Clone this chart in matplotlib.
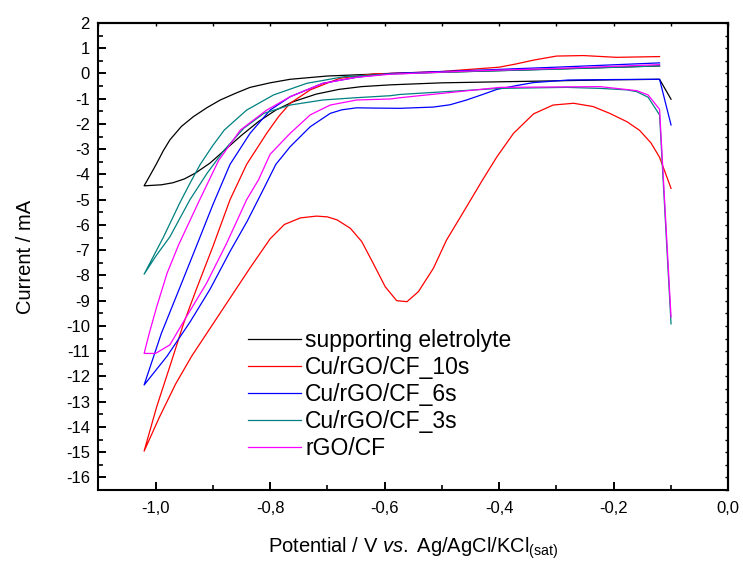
import matplotlib
matplotlib.use("Agg")
import matplotlib.pyplot as plt

plt.rcParams['font.family'] = ['Liberation Sans', 'DejaVu Sans']
plt.rcParams['mathtext.fontset'] = 'custom'
plt.rcParams['mathtext.rm'] = 'Liberation Sans'
plt.rcParams['mathtext.it'] = 'Liberation Sans:italic'

labels = ["supporting eletrolyte", "Cu/rGO/CF_10s", "Cu/rGO/CF_6s", "Cu/rGO/CF_3s", "rGO/CF"]
colors = ["#000000", "#FF0000", "#0000FF", "#008080", "#FF00FF"]

black_x = [-0.10, -0.12, -0.20, -0.35, -0.50, -0.59, -0.64, -0.68, -0.72, -0.76, -0.79, -0.82, -0.85, -0.88,
           -0.905, -0.93, -0.95, -0.97, -0.99, -1.02,
           -1.01, -0.998, -0.987, -0.975, -0.955, -0.934, -0.91, -0.887, -0.86, -0.835, -0.80, -0.765, -0.70,
           -0.59, -0.45, -0.30, -0.12]
black_y = [-1.02, -0.23, -0.25, -0.31, -0.37, -0.45, -0.52, -0.63, -0.82, -1.12, -1.45, -1.90, -2.45, -3.05,
           -3.55, -3.94, -4.18, -4.33, -4.41, -4.45,
           -4.05, -3.56, -3.08, -2.63, -2.10, -1.71, -1.35, -1.05, -0.78, -0.55, -0.37, -0.23, -0.10,
           0.00, 0.08, 0.18, 0.30]

red_x = [-0.10, -0.12, -0.135, -0.155, -0.177, -0.207, -0.236, -0.27, -0.306, -0.34, -0.375, -0.404, -0.43,
         -0.457, -0.492, -0.515, -0.541, -0.561, -0.579, -0.599, -0.62, -0.64, -0.66, -0.683, -0.70, -0.719,
         -0.747, -0.775, -0.80, -0.835, -0.87, -0.905, -0.937, -0.965, -0.993, -1.02,
         -0.998, -0.975, -0.951, -0.928, -0.90, -0.87, -0.841, -0.806, -0.785, -0.765, -0.73, -0.70, -0.678,
         -0.62, -0.50, -0.40, -0.37, -0.34, -0.30, -0.253, -0.195, -0.12]
red_y = [-4.55, -3.32, -2.75, -2.25, -1.91, -1.58, -1.31, -1.18, -1.25, -1.60, -2.37, -3.30, -4.25,
         -5.28, -6.60, -7.72, -8.64, -9.04, -9.00, -8.45, -7.52, -6.66, -6.13, -5.80, -5.68, -5.65,
         -5.72, -5.98, -6.55, -7.70, -8.90, -10.10, -11.20, -12.30, -13.60, -14.96,
         -13.2, -11.6, -9.9, -8.5, -6.86, -5.0, -3.6, -2.37, -1.70, -1.18, -0.65, -0.38, -0.19,
         -0.02, 0.08, 0.25, 0.38, 0.53, 0.69, 0.71, 0.64, 0.67]

blue_x = [-0.10, -0.12, -0.20, -0.28, -0.34, -0.37, -0.404, -0.43, -0.457, -0.486, -0.515, -0.573, -0.62,
          -0.649, -0.675, -0.695, -0.73, -0.765, -0.79, -0.812, -0.84, -0.87, -0.905, -0.94, -0.98, -1.02,
          -0.99, -0.958, -0.928, -0.90, -0.87, -0.835, -0.80, -0.765, -0.708, -0.649, -0.59, -0.45, -0.30,
          -0.12]
blue_y = [-2.04, -0.23, -0.24, -0.26, -0.36, -0.48, -0.63, -0.84, -1.05, -1.24, -1.33, -1.38, -1.37,
          -1.36, -1.44, -1.58, -2.11, -2.90, -3.60, -4.60, -5.85, -7.05, -8.55, -9.85, -11.2, -12.34,
          -10.3, -8.5, -6.8, -5.2, -3.6, -2.37, -1.45, -0.92, -0.39, -0.15, 0.00, 0.12, 0.25,
          0.42]

teal_x = [-0.10, -0.12, -0.14, -0.16, -0.177, -0.224, -0.282, -0.399, -0.573, -0.59, -0.65, -0.708, -0.765,
          -0.811, -0.846, -0.88, -0.91, -0.94, -0.975, -1.0, -1.02,
          -0.986, -0.958, -0.94, -0.922, -0.90, -0.88, -0.841, -0.794, -0.736, -0.672, -0.59, -0.45, -0.30,
          -0.12]
teal_y = [-9.92, -1.64, -0.94, -0.72, -0.65, -0.59, -0.55, -0.59, -0.83, -0.88, -0.96, -1.05, -1.25,
          -1.58, -2.17, -3.03, -3.95, -5.00, -6.47, -7.25, -7.95,
          -6.47, -5.14, -4.35, -3.60, -2.85, -2.24, -1.45, -0.85, -0.39, -0.13, -0.02, 0.08, 0.17,
          0.30]

mag_x = [-0.10, -0.12, -0.14, -0.16, -0.224, -0.399, -0.573, -0.59, -0.649, -0.695, -0.73, -0.765, -0.80,
         -0.82, -0.841, -0.876, -0.911, -0.946, -0.975, -1.0, -1.02,
         -1.011, -0.998, -0.98, -0.96, -0.925, -0.89, -0.852, -0.806, -0.765, -0.708, -0.649, -0.59, -0.45,
         -0.30, -0.12]
mag_y = [-9.64, -1.42, -0.85, -0.68, -0.52, -0.55, -0.96, -1.01, -1.05, -1.25, -1.64, -2.37, -3.20,
         -4.20, -5.00, -6.73, -8.31, -9.63, -10.75, -11.09, -11.09,
         -10.29, -9.24, -7.92, -6.80, -5.10, -3.45, -2.24, -1.45, -0.92, -0.39, -0.15, -0.03, 0.10,
         0.20, 0.35]

xticks = [-1.0, -0.8, -0.6, -0.4, -0.2, 0.0]
xticklabels = ["-1,0", "-0,8", "-0,6", "-0,4", "-0,2", "0,0"]
yticks = list(range(-16, 3))
yticklabels = [str(v) for v in yticks]
xminor = [-1.1 + 0.1 * i for i in range(12)]
yminor = [-16.5 + 1.0 * i for i in range(19)]

fig = plt.figure(figsize=(7.43, 5.62), dpi=100)
ax = fig.add_axes([98.3 / 743, 1 - 490 / 562, 630 / 743, 467 / 562])

series = [(black_x, black_y), (red_x, red_y), (blue_x, blue_y), (teal_x, teal_y), (mag_x, mag_y)]
for (xs, ys), c, lab in zip(series, colors, labels):
    ax.plot(xs, ys, color=c, lw=0.9, label=lab)

ax.set_xlim(-1.1, 0.0)
ax.set_ylim(-16.5, 2)
ax.set_xticks(xticks)
ax.set_xticklabels(xticklabels)
ax.set_yticks(yticks)
ax.set_yticklabels(yticklabels)
ax.set_xticks(xminor, minor=True)
ax.set_yticks(yminor, minor=True)

for s in ax.spines.values():
    s.set_linewidth(1.5)
ax.tick_params(which='major', direction='in', length=6, width=1.4, labelsize=12)
ax.tick_params(axis='y', which='major', pad=6)
ax.tick_params(axis='x', which='major', pad=8)
ax.tick_params(which='minor', direction='in', length=3.5, width=1.2)

secx = ax.secondary_xaxis('top')
secx.set_xticks(xticks)
secx.set_xticks(xminor, minor=True)
secx.tick_params(which='both', direction='in', length=2, width=1.0, labeltop=False)
secx.spines['top'].set_linewidth(1.5)
secy = ax.secondary_yaxis('right')
secy.set_yticks(yticks)
secy.set_yticks(yminor, minor=True)
secy.tick_params(which='both', direction='in', length=2, width=1.0, labelright=False)
secy.spines['right'].set_linewidth(1.5)

ax.set_xlabel(r'Potential / V $\mathit{vs.}$ Ag/AgCl/KCl$_{\mathrm{(sat)}}$', fontsize=14.5, labelpad=14)
ax.set_ylabel('Current / mA', fontsize=14.5, labelpad=22)

leg = ax.legend(loc='upper left', bbox_to_anchor=(0.205, 0.388), frameon=False, fontsize=16.5,
                handlelength=2.3, handletextpad=0.2, labelspacing=0.17, borderpad=0.4)

fig.savefig("out.png", dpi=100)
